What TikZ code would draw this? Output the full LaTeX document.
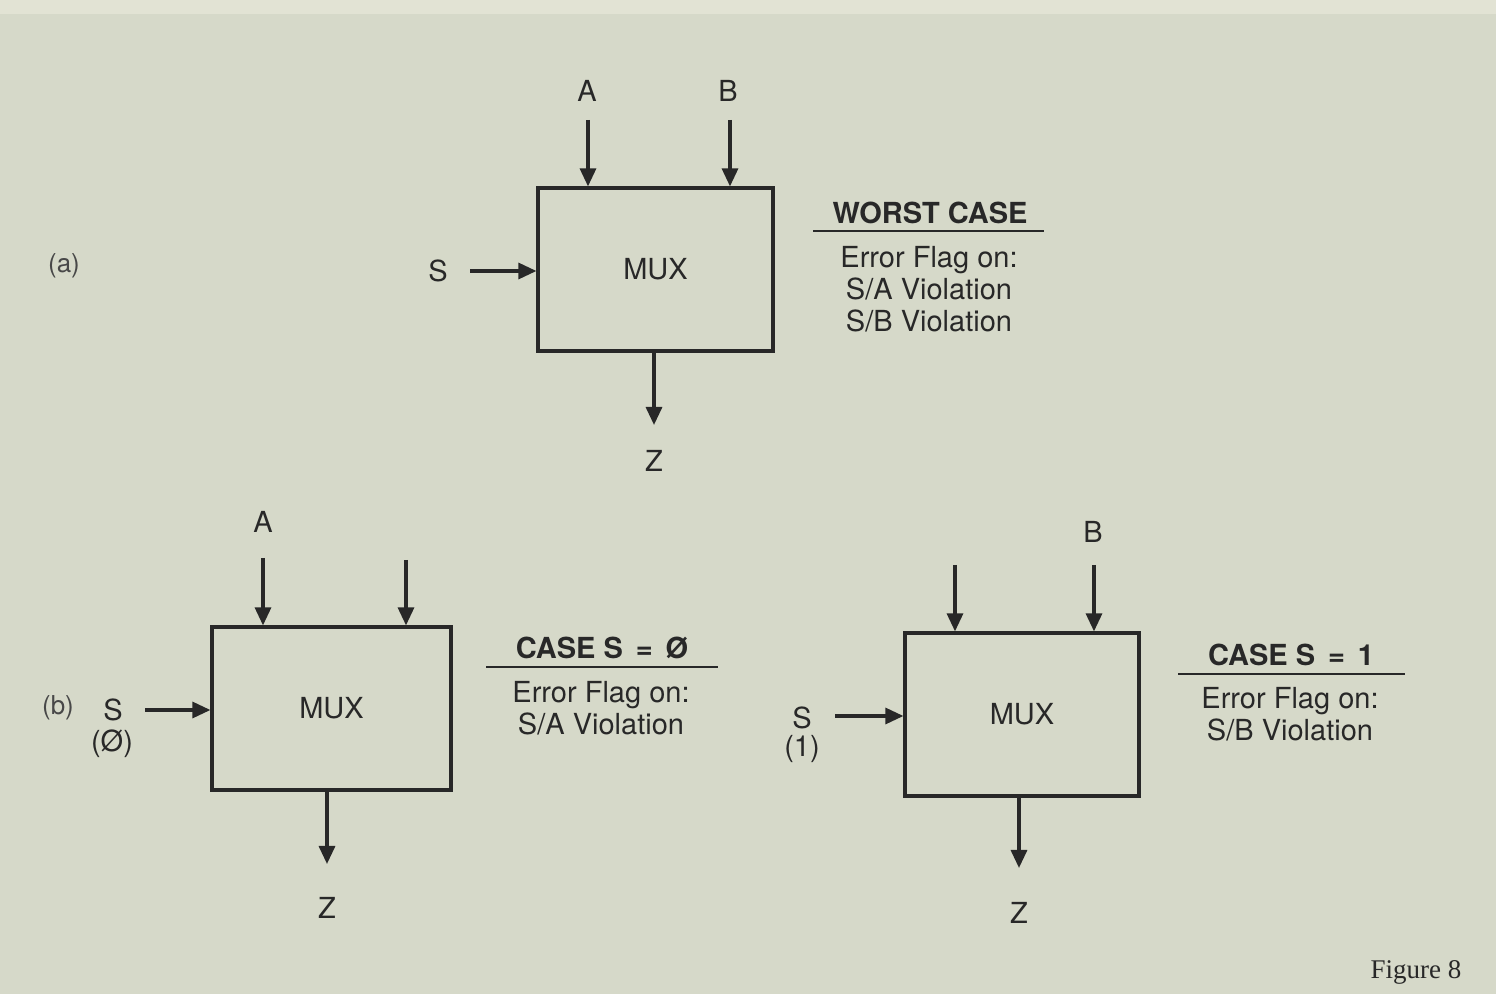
\documentclass[tikz,border=0pt]{standalone}
\usepackage{fontspec}
\setmainfont{TeX Gyre Heros}
\newfontfamily\figfont{Liberation Serif}
\usetikzlibrary{arrows.meta,positioning}
\definecolor{paper}{RGB}{214,217,201}
\definecolor{paperlight}{RGB}{226,227,212}
\definecolor{ink}{RGB}{40,40,40}

\begin{document}
\begin{tikzpicture}[x=0.5pt, y=-0.5pt,
		every node/.style={text=ink, inner sep=0pt, font=\fontsize{14.5}{16}\selectfont},
		mux/.style={
			draw=ink,
			rectangle,
			line width=1.6pt,
			minimum height=81.5pt,
			align=center
		},
		sig/.style={-{Triangle[length=9pt,width=8pt]}, line width=1.6pt, draw=ink},
		head/.style={font=\fontsize{14.5}{16}\selectfont\bfseries},
		flag/.style={align=center, font=\fontsize{14.5}{16}\selectfont},
		rule/.style={line width=0.9pt, draw=ink},
		tag/.style={font=\fontsize{13}{15}\selectfont, text=ink!85}
		]
		
		% --- Page ---
		\fill[paper] (0,0) rectangle (1496,994);
		\fill[paperlight] (0,0) rectangle (1496,14);
		
		% --- (a) worst case ---
		\node[tag] (taga) at (64,266) {(a)};
		\node[mux, minimum width=117.5pt] (MUXa) at (655.5,269.5) {MUX};
		\node (Aa) at (587,91) {A};
		\node (Ba) at (728,91) {B};
		\node (Sa) at (438,271) {S};
		\node (Za) at (654,461) {Z};
		\coordinate (Aa-in) at (588,120);
		\coordinate (Ba-in) at (730,120);
		\coordinate (Sa-in) at (470,271);
		\coordinate (Za-out) at (654,425);
		\draw[sig] (Aa-in) -- (Aa-in |- MUXa.north);
		\draw[sig] (Ba-in) -- (Ba-in |- MUXa.north);
		\draw[sig] (Sa-in) -- (Sa-in -| MUXa.west);
		\draw[sig] (Za-out |- MUXa.south) -- (Za-out);
		
		\node[head] (WCa) at (930,213) {WORST CASE};
		\draw[rule] (813,231) -- (1044,231);
		\node[flag] (FLa) at (929,289) {Error Flag on:\\S/A Violation\\S/B Violation};
		
		% --- (b) case S = 0 ---
		\node[tag] (tagb) at (58,708) {(b)};
		\node[mux, minimum width=119.5pt] (MUXb) at (331.5,708.5) {MUX};
		\node (Ab) at (263,522) {A};
		\node (Sb) at (113,710) {S};
		\node (Sb0) at (112,744) {(Ø)};
		\node (Zb) at (327,908) {Z};
		\coordinate (Ab-in) at (263,558);
		\coordinate (Bb-in) at (406,560);
		\coordinate (Sb-in) at (145,710);
		\coordinate (Zb-out) at (327,864);
		\draw[sig] (Ab-in) -- (Ab-in |- MUXb.north);
		\draw[sig] (Bb-in) -- (Bb-in |- MUXb.north);
		\draw[sig] (Sb-in) -- (Sb-in -| MUXb.west);
		\draw[sig] (Zb-out |- MUXb.south) -- (Zb-out);
		
		\node[head] (CSb) at (602,648) {CASE S \,=\, Ø};
		\draw[rule] (486,667) -- (718,667);
		\node[flag] (FLb) at (601,708) {Error Flag on:\\S/A Violation};
		
		% --- (b) case S = 1 ---
		\node[mux, minimum width=117pt] (MUXc) at (1022,714.5) {MUX};
		\node (Bc) at (1093,532) {B};
		\node (Sc) at (802,718) {S};
		\node (Sc1) at (802,749) {(1)};
		\node (Zc) at (1019,913) {Z};
		\coordinate (Ac-in) at (955,565);
		\coordinate (Bc-in) at (1094,565);
		\coordinate (Sc-in) at (835,716);
		\coordinate (Zc-out) at (1019,868);
		\draw[sig] (Ac-in) -- (Ac-in |- MUXc.north);
		\draw[sig] (Bc-in) -- (Bc-in |- MUXc.north);
		\draw[sig] (Sc-in) -- (Sc-in -| MUXc.west);
		\draw[sig] (Zc-out |- MUXc.south) -- (Zc-out);
		
		\node[head] (CSc) at (1291,655) {CASE S \,=\, 1};
		\draw[rule] (1178,674) -- (1405,674);
		\node[flag] (FLc) at (1290,714) {Error Flag on:\\S/B Violation};
		
		% --- Caption ---
		\node[font=\fontsize{13.5}{15}\figfont] (cap) at (1416,972) {Figure 8};
		
	\end{tikzpicture}
\end{document}
